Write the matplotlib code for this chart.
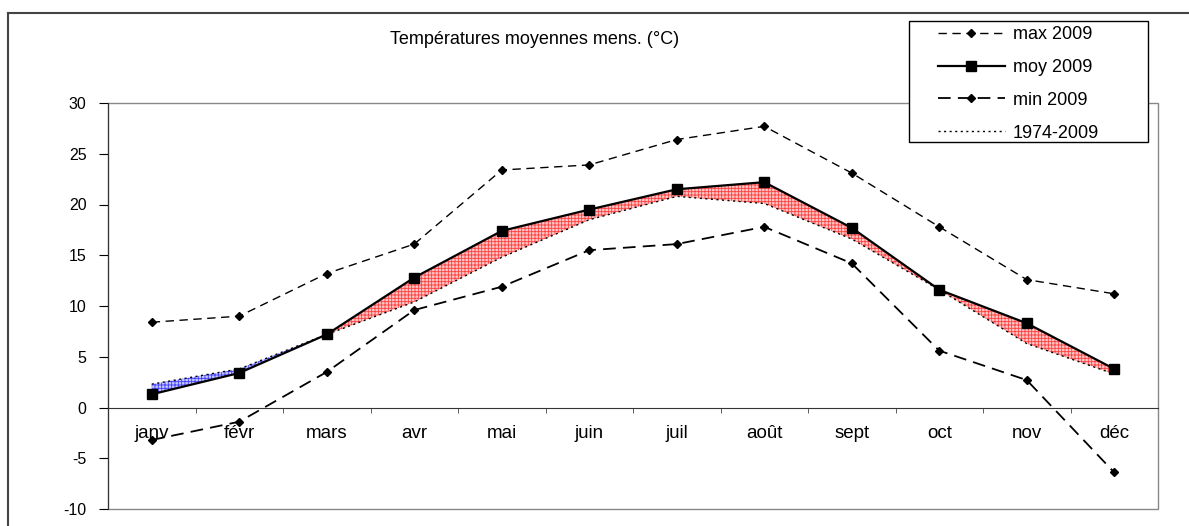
import matplotlib.pyplot as plt
import numpy as np
from matplotlib.lines import Line2D
from matplotlib.patches import Rectangle

plt.rcParams['font.family'] = ['Liberation Sans', 'DejaVu Sans']
plt.rcParams['hatch.linewidth'] = 0.6
plt.rcParams['axes.unicode_minus'] = False

# data
mois = ['janv', 'févr', 'mars', 'avr', 'mai', 'juin', 'juil', 'août', 'sept', 'oct', 'nov', 'déc']
t_max = [8.4, 9.0, 13.2, 16.1, 23.4, 23.9, 26.4, 27.7, 23.1, 17.8, 12.6, 11.2]
t_moy = [1.3, 3.4, 7.2, 12.8, 17.4, 19.5, 21.5, 22.2, 17.7, 11.6, 8.3, 3.8]
t_min = [-3.2, -1.4, 3.5, 9.6, 11.9, 15.5, 16.1, 17.8, 14.2, 5.6, 2.7, -6.4]
normale = [2.3, 3.8, 7.2, 10.4, 14.8, 18.5, 20.8, 20.1, 16.6, 11.6, 6.3, 3.3]

x = np.arange(len(mois))
moy = np.array(t_moy)
nor = np.array(normale)

W, H = 1189, 526
fig = plt.figure(figsize=(W/100, H/100), dpi=100)
ax = fig.add_axes([108/W, 1-509/H, 1050/W, 406/H])

# shaded gap between 2009 and the 1974-2009 mean
ax.fill_between(x, moy, nor, where=moy >= nor, interpolate=True,
                facecolor='#ffc6c6', edgecolor='#ff4040', hatch='+++++', lw=0)
ax.fill_between(x, moy, nor, where=moy < nor, interpolate=True,
                facecolor='#c6c6ff', edgecolor='#4040ff', hatch='+++++', lw=0)

ax.plot(x, t_max, color='black', lw=1, dashes=(6, 4), marker='D', ms=4.5, label='max 2009')
ax.plot(x, t_moy, color='black', lw=1.6, marker='s', ms=7.5, label='moy 2009')
ax.plot(x, t_min, color='black', lw=1.3, dashes=(7, 4), marker='D', ms=4.5, label='min 2009')
ax.plot(x, normale, color='black', lw=1, dashes=(1.5, 2.5), label='1974-2009')

ax.set_xlim(-0.5, 11.5)
ax.set_ylim(-10, 30)
ax.set_yticks(np.arange(-10, 31, 5))
ax.set_xticks(x)
ax.set_xticklabels(mois)
ax.set_xticks(np.arange(0.5, 11, 1), minor=True)
ax.tick_params(axis='x', which='major', length=0, pad=12.5, labelsize=13.5)
ax.tick_params(axis='x', which='minor', length=3.5, direction='out', color='#444444')
ax.tick_params(axis='y', length=6.5, direction='out', labelsize=11.5, pad=9)

ax.spines['bottom'].set_position(('data', 0))
ax.spines['bottom'].set_color('#333333')
ax.spines['left'].set_color('#333333')
ax.spines['top'].set_visible(False)
ax.spines['right'].set_visible(False)
ax.add_patch(Rectangle((0, 0), 1, 1, transform=ax.transAxes, fill=False,
                       edgecolor='#888888', lw=1, zorder=0.5, clip_on=False))

# outer frame
fig.add_artist(Line2D([8/W, 1], [1-13/H, 1-13/H], color='#444444', lw=1.5))
fig.add_artist(Line2D([8/W, 8/W], [0, 1-13/H], color='#444444', lw=1.5))

fig.text(535/W, 1-40/H, 'Températures moyennes mens. (°C)', ha='center', va='center', fontsize=13)

# legend box
fig.add_artist(Rectangle((909/W, 1-142/H), 239/W, 121/H, transform=fig.transFigure,
                         facecolor='white', edgecolor='black', lw=1, zorder=5))
leg = fig.legend(loc='upper left', bbox_to_anchor=(938/W, 1-26/H), fontsize=13,
                 frameon=False, handlelength=3.7, labelspacing=0.88,
                 borderpad=0, borderaxespad=0, handletextpad=0.45)
leg.set_zorder(6)

fig.savefig('out.png', dpi=100)
